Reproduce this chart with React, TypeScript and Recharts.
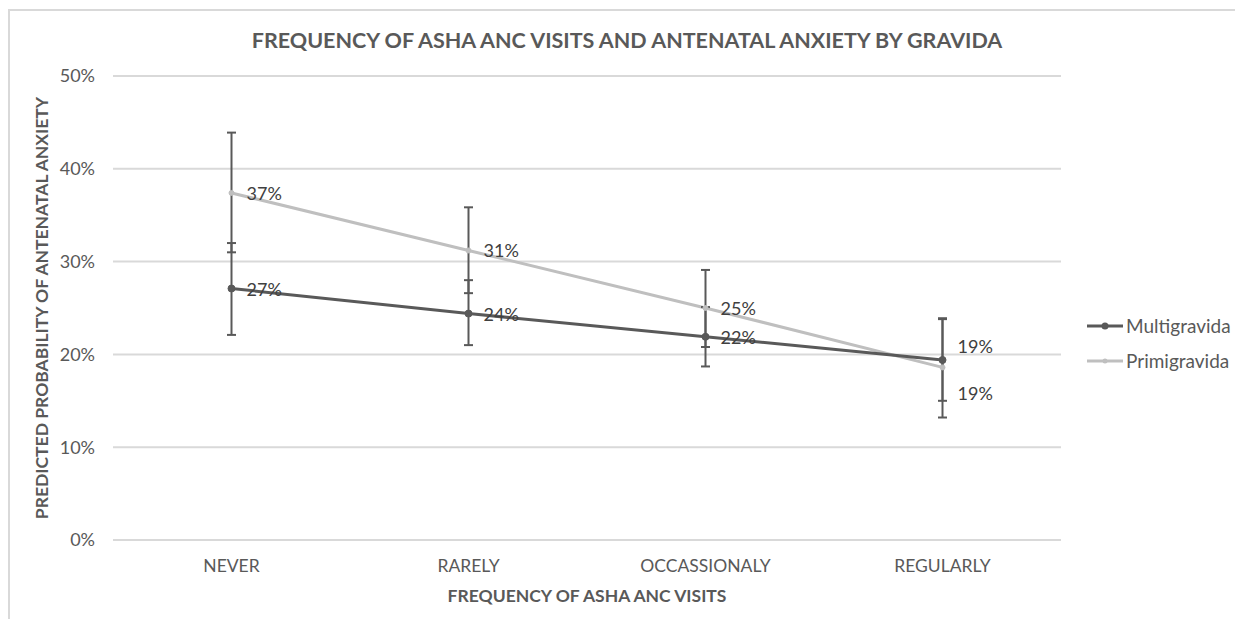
import React from 'react';
import { LineChart, Line, XAxis, YAxis, CartesianGrid, ErrorBar, LabelList } from 'recharts';

const categories = ['NEVER', 'RARELY', 'OCCASSIONALY', 'REGULARLY'];
const multigravida = [27.1, 24.4, 21.9, 19.4];
const multiLow = [22.1, 21.0, 18.7, 15.0];
const multiHigh = [32.0, 28.0, 25.1, 23.8];
const primigravida = [37.4, 31.2, 25.0, 18.6];
const primiLow = [31.0, 26.6, 20.8, 13.2];
const primiHigh = [43.9, 35.85, 29.1, 23.9];
const yTicks = [0, 10, 20, 30, 40, 50];

const data = categories.map((c, i) => ({
  name: c,
  multi: multigravida[i],
  multiErr: [multigravida[i] - multiLow[i], multiHigh[i] - multigravida[i]],
  primi: primigravida[i],
  primiErr: [primigravida[i] - primiLow[i], primiHigh[i] - primigravida[i]],
}));

const FONT = 'Lato, "Open Sans", sans-serif';
const DARK = '#595959';
const LIGHT = '#bfbfbf';

const makeLabel = (series: 'multi' | 'primi') => (props: any) => {
  const { x, y, value, index } = props;
  let dy = 7;
  if (index === categories.length - 1) dy = series === 'multi' ? -7 : 33;
  return (
    <text x={x + 15} y={y + dy} fill="#404040" fontSize={18} fontFamily={FONT}>
      {Math.round(value)}%
    </text>
  );
};

const legendItems = [
  { label: 'Multigravida', color: DARK, r: 3.5 },
  { label: 'Primigravida', color: LIGHT, r: 2.5 },
];

export default function App() {
  return (
    <div style={{ position: 'relative', width: 1227, height: 611 }}>
      <div
        style={{
          position: 'absolute',
          left: 0,
          top: 1,
          width: 1240,
          height: 630,
          borderTop: '2px solid #d9d9d9',
          borderLeft: '2px solid #d9d9d9',
          boxSizing: 'border-box',
        }}
      />
      <LineChart
        width={1227}
        height={611}
        data={data}
        margin={{ top: 68, right: 174, bottom: 19, left: 45 }}
        style={{ position: 'absolute', left: 0, top: 0 }}
      >
        <text x={619} y={40} textAnchor="middle" fill={DARK} fontSize={21.5} fontWeight="bold" fontFamily={FONT}>
          FREQUENCY OF ASHA ANC VISITS AND ANTENATAL ANXIETY BY GRAVIDA
        </text>
        <CartesianGrid vertical={false} stroke="#d9d9d9" strokeWidth={2} />
        <XAxis
          dataKey="name"
          axisLine={false}
          tickLine={false}
          padding={{ left: 118.5, right: 118.5 }}
          tick={{ fill: DARK, fontSize: 17.5, fontFamily: FONT }}
          tickMargin={14}
          label={{
            value: 'FREQUENCY OF ASHA ANC VISITS',
            position: 'insideBottom',
            offset: -2,
            fill: DARK,
            fontSize: 17.5,
            fontWeight: 'bold',
            fontFamily: FONT,
          }}
          height={60}
        />
        <YAxis
          domain={[0, 50]}
          ticks={yTicks}
          tickFormatter={(v) => `${v}%`}
          axisLine={false}
          tickLine={false}
          tick={{ fill: DARK, fontSize: 18, fontFamily: FONT }}
          tickMargin={12}
          width={60}
          label={{
            value: 'PREDICTED PROBABILITY OF ANTENATAL ANXIETY',
            angle: -90,
            position: 'insideLeft',
            offset: -11,
            style: { textAnchor: 'middle' },
            fill: DARK,
            fontSize: 17.5,
            fontWeight: 'bold',
            fontFamily: FONT,
          }}
        />
        <Line
          type="linear"
          dataKey="primi"
          name="Primigravida"
          stroke={LIGHT}
          strokeWidth={3}
          dot={{ r: 2.5, fill: LIGHT, stroke: LIGHT, strokeWidth: 1 }}
          isAnimationActive={false}
        >
          <ErrorBar dataKey="primiErr" width={4.5} stroke={DARK} strokeWidth={2} direction="y" />
          <LabelList dataKey="primi" content={makeLabel('primi')} />
        </Line>
        <Line
          type="linear"
          dataKey="multi"
          name="Multigravida"
          stroke={DARK}
          strokeWidth={3}
          dot={{ r: 3.5, fill: DARK, stroke: DARK, strokeWidth: 1 }}
          isAnimationActive={false}
        >
          <ErrorBar dataKey="multiErr" width={4.5} stroke={DARK} strokeWidth={2} direction="y" />
          <LabelList dataKey="multi" content={makeLabel('multi')} />
        </Line>
      </LineChart>
      <div
        style={{
          position: 'absolute',
          left: 1079,
          top: 300,
          fontFamily: FONT,
          fontSize: 19,
          color: DARK,
        }}
      >
        {legendItems.map((it) => (
          <div key={it.label} style={{ display: 'flex', alignItems: 'center', height: 35 }}>
            <svg width={36} height={10} style={{ marginRight: 3 }}>
              <line x1={0} y1={5} x2={36} y2={5} stroke={it.color} strokeWidth={3} />
              <circle cx={18} cy={5} r={it.r} fill={it.color} />
            </svg>
            <span>{it.label}</span>
          </div>
        ))}
      </div>
    </div>
  );
}
